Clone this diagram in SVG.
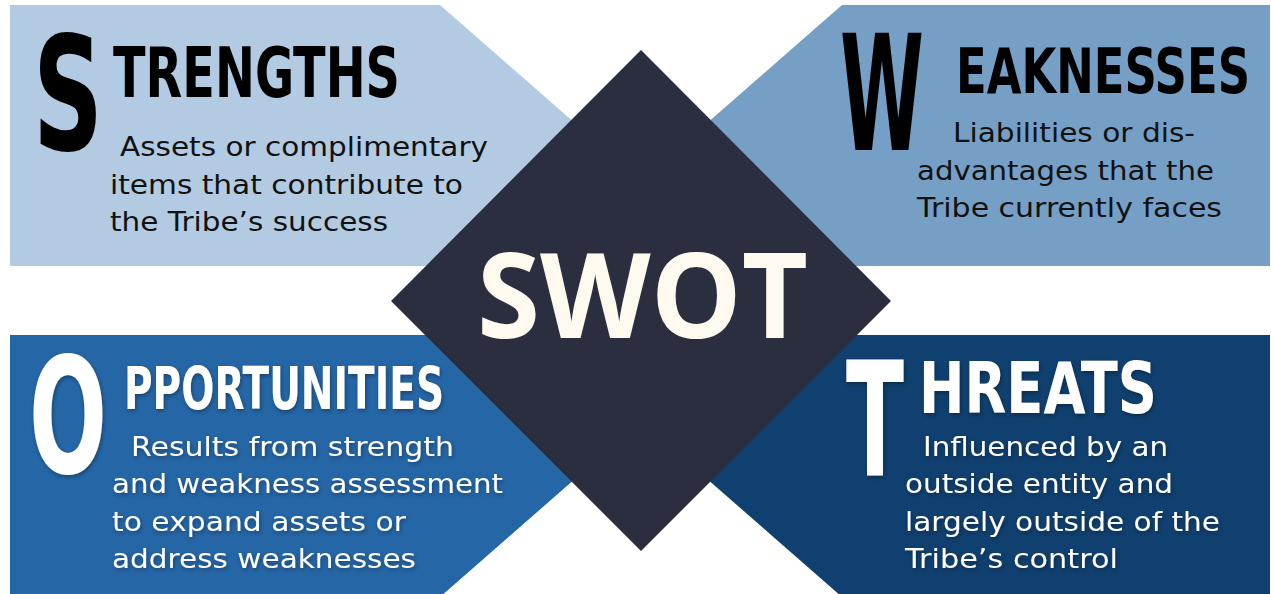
<svg xmlns="http://www.w3.org/2000/svg" width="1271" height="594" viewBox="0 0 1271 594">
  <defs>
    <filter id="shadow" x="-20%" y="-20%" width="140%" height="140%">
      <feDropShadow dx="1" dy="2" stdDeviation="2" flood-color="#000000" flood-opacity="0.35"/>
    </filter>
  </defs>
  <style>
    .big { font-family: "DejaVu Sans", "Liberation Sans", sans-serif; font-weight: bold; }
    .head { font-family: "DejaVu Sans Condensed", "DejaVu Sans", "Liberation Sans", sans-serif; font-weight: bold; }
    .body { font-family: "DejaVu Sans", "Liberation Sans", sans-serif; font-size: 26px; }
    .dark { fill: #000000; }
    .bodydark { fill: #111111; }
    .light { fill: #ffffff; }
    .swot { font-family: "Open Sans", "DejaVu Sans", sans-serif; font-weight: 700; font-size: 118px; fill: #fffaf0; }
  </style>
  <rect width="1271" height="594" fill="#ffffff"/>

  <g id="strengths">
    <polygon points="10,5 440,5 600,145 470,266 10,266" fill="#b3cbe2"/>
    <text class="big dark" x="33" y="150" font-size="158" textLength="70" lengthAdjust="spacingAndGlyphs">S</text>
    <text class="head dark" x="113" y="97" font-size="70" textLength="287" lengthAdjust="spacingAndGlyphs">TRENGTHS</text>
    <text class="body bodydark" x="120" y="156" textLength="368" lengthAdjust="spacingAndGlyphs">Assets or complimentary</text>
    <text class="body bodydark" x="110" y="194" textLength="353" lengthAdjust="spacingAndGlyphs">items that contribute to</text>
    <text class="body bodydark" x="110" y="231" textLength="278" lengthAdjust="spacingAndGlyphs">the Tribe’s success</text>
  </g>

  <g id="weaknesses">
    <polygon points="1270,5 842,5 682,145 812,266 1270,266" fill="#769fc6"/>
    <text class="big dark" x="840" y="150" font-size="160" textLength="84" lengthAdjust="spacingAndGlyphs">W</text>
    <text class="head dark" x="956" y="93" font-size="62" textLength="294" lengthAdjust="spacingAndGlyphs">EAKNESSES</text>
    <text class="body bodydark" x="953" y="142" textLength="242" lengthAdjust="spacingAndGlyphs">Liabilities or dis-</text>
    <text class="body bodydark" x="917" y="180" textLength="297" lengthAdjust="spacingAndGlyphs">advantages that the</text>
    <text class="body bodydark" x="917" y="217" textLength="305" lengthAdjust="spacingAndGlyphs">Tribe currently faces</text>
  </g>

  <g id="opportunities">
    <polygon points="10,335 470,335 600,457 440,597 10,597" fill="#2566a6"/>
    <g filter="url(#shadow)">
      <text class="big light" x="29" y="473" font-size="160" textLength="78" lengthAdjust="spacingAndGlyphs">O</text>
      <text class="head light" x="124" y="409" font-size="58" textLength="320" lengthAdjust="spacingAndGlyphs">PPORTUNITIES</text>
      <text class="body light" x="131" y="456" textLength="323" lengthAdjust="spacingAndGlyphs">Results from strength</text>
      <text class="body light" x="112" y="493" textLength="391" lengthAdjust="spacingAndGlyphs">and weakness assessment</text>
      <text class="body light" x="112" y="531" textLength="294" lengthAdjust="spacingAndGlyphs">to expand assets or</text>
      <text class="body light" x="112" y="568" textLength="304" lengthAdjust="spacingAndGlyphs">address weaknesses</text>
    </g>
  </g>

  <g id="threats">
    <polygon points="1270,335 812,335 682,457 842,597 1270,597" fill="#10406f"/>
    <g filter="url(#shadow)">
      <text class="big light" x="846" y="475" font-size="158" textLength="58" lengthAdjust="spacingAndGlyphs">T</text>
      <text class="head light" x="919" y="413" font-size="71" textLength="238" lengthAdjust="spacingAndGlyphs">HREATS</text>
      <text class="body light" x="923" y="456" textLength="245" lengthAdjust="spacingAndGlyphs">Influenced by an</text>
      <text class="body light" x="905" y="493" textLength="268" lengthAdjust="spacingAndGlyphs">outside entity and</text>
      <text class="body light" x="905" y="531" textLength="315" lengthAdjust="spacingAndGlyphs">largely outside of the</text>
      <text class="body light" x="905" y="568" textLength="213" lengthAdjust="spacingAndGlyphs">Tribe’s control</text>
    </g>
  </g>

  <g id="swot">
    <polygon points="641,50 891,301 641,551 391,301" fill="#2b2e3f"/>
    <text class="swot" x="477" y="338" textLength="331" lengthAdjust="spacingAndGlyphs">SWOT</text>
  </g>
</svg>
